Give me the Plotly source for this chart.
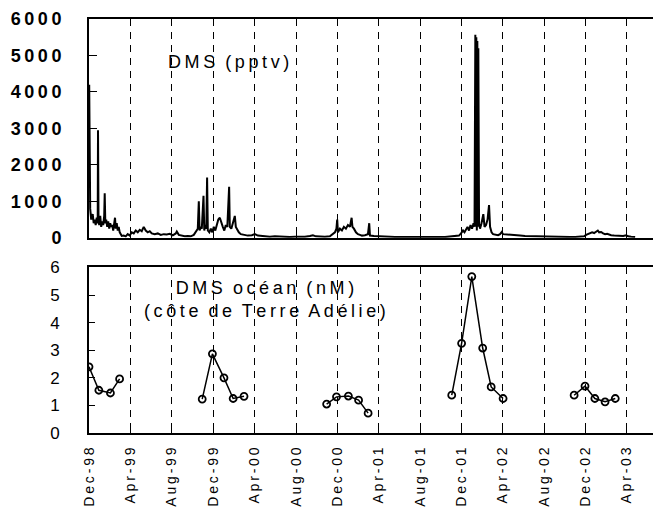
import pandas as pd
import plotly.graph_objects as go
from plotly.subplots import make_subplots

# ---------------- data ----------------
START = "1998-12-01"

# atmospheric DMS (pptv): day offset since 1 Dec 1998, value
s1_day = [0.6, 3.5, 6.5, 10.9, 13.8, 16.8, 19.7, 22.7, 25.6, 26.5, 28.0, 30.0, 33.0, 35.9, 38.9, 41.8, 44.7, 46.2,
          48.0, 50.6, 53.6, 56.5, 59.5, 62.4, 65.4, 68.3, 71.2, 74.2, 76.5, 78.6, 81.5, 84.5, 87.4, 90.4, 93.3, 96.3,
          102.2, 108.0, 113.9, 119.8, 125.7, 131.6, 137.5, 143.4, 149.3, 155.1, 161.0, 166.9, 172.8, 178.7, 184.6,
          193.4, 202.3, 211.1, 219.9, 228.7, 237.6, 246.4, 255.2, 258.2, 264.1, 272.9, 281.7, 290.6, 299.4, 308.2,
          314.1, 320.0]
s1_ppt = [4200, 800, 500, 650, 400, 500, 350, 550, 400, 2950, 500, 350, 600, 300, 450, 350, 600, 1220,
          400, 500, 300, 450, 250, 400, 300, 350, 200, 450, 550, 250, 400, 200, 300, 150, 80, 50,
          60, 40, 100, 60, 150, 120, 200, 150, 220, 180, 300, 200, 150, 180, 120,
          100, 120, 80, 100, 90, 110, 70, 120, 170, 80, 60, 40, 50, 40, 80, 150, 250]

s2_day = [323.0, 325.3, 328.8, 331.8, 336.8, 339.1, 342.1, 345.0, 347.4, 349.5, 353.9, 358.3, 362.7, 367.1, 371.5,
          375.9, 380.4, 384.8, 389.2, 393.6, 398.0, 402.4, 406.9, 412.2, 414.2, 418.6, 423.1, 428.9, 431.9, 436.3,
          440.7, 446.6, 455.4, 467.2, 479.0, 487.8, 496.7, 508.4, 520.2, 532.0, 546.7, 561.4, 576.1, 590.9, 605.6,
          620.3, 635.0, 649.7, 658.6, 667.4, 679.2, 693.9, 708.6]
s2_ppt = [1000, 200, 300, 250, 1150, 200, 350, 250, 1650, 200, 150, 250, 150, 300, 200,
          350, 500, 550, 400, 300, 200, 350, 300, 1400, 300, 250, 400, 600, 300, 200,
          150, 100, 80, 60, 70, 100, 60, 50, 40, 30, 40, 30, 20, 20, 30,
          20, 30, 50, 70, 40, 30, 30, 40]

s3_day = [717.5, 723.3, 727.8, 730.1, 732.2, 738.1, 744.0, 749.8, 755.7, 761.6, 767.5, 772.5, 774.9, 779.3, 785.2,
          791.1, 796.9, 802.8, 811.7, 820.5, 824.3, 826.4, 838.2, 849.9, 861.7, 873.5, 885.3, 900.0, 914.7, 929.4,
          944.1, 958.9, 973.6, 988.3, 1003.0, 1017.7, 1032.5, 1047.2, 1061.9, 1076.6, 1088.4]
s3_ppt = [100, 150, 250, 500, 150, 250, 200, 300, 250, 350, 300, 550, 300, 250, 150,
          100, 80, 60, 70, 100, 400, 60, 50, 40, 50, 30, 30, 25, 30, 20,
          25, 20, 25, 20, 25, 20, 25, 20, 30, 40, 60]

s4_day = [1094.3, 1100.2, 1104.6, 1109.0, 1113.4, 1117.8, 1122.3, 1126.7, 1131.1, 1134.0, 1136.4, 1137.9, 1139.3,
          1140.8, 1142.3, 1143.7, 1145.2, 1147.3, 1150.2, 1154.6, 1159.9, 1163.5, 1167.9, 1172.3, 1176.7, 1179.7,
          1184.1, 1188.5, 1194.4, 1203.2, 1209.1, 1214.1, 1217.9, 1226.8, 1238.5, 1253.2, 1268.0, 1282.7, 1297.4,
          1312.1, 1326.8, 1341.6, 1356.3, 1371.0, 1385.7, 1400.4, 1415.2, 1429.9, 1444.6, 1456.4]
s4_ppt = [120, 200, 150, 250, 300, 200, 350, 250, 400, 300, 5570, 300, 5500,
          200, 5400, 300, 5200, 400, 250, 400, 650, 300, 350, 500, 900, 300,
          150, 100, 80, 70, 100, 160, 100, 90, 80, 70, 60, 50, 45,
          40, 35, 30, 25, 25, 20, 25, 20, 25, 30, 40]

s5_day = [1462.2, 1468.1, 1474.0, 1479.9, 1485.8, 1491.7, 1496.7, 1500.5, 1506.4, 1512.3, 1518.2, 1524.1, 1530.0,
          1535.8, 1544.7, 1553.5, 1562.4, 1571.2, 1580.0, 1585.9, 1594.8, 1606.5]
s5_ppt = [80, 100, 120, 150, 130, 170, 200, 150, 160, 120, 100, 110, 80,
          70, 60, 50, 40, 50, 70, 40, 30, 20]

# ocean DMS (nM), Terre Adélie coast, by campaign
o1_date = ["1998-12-01", "1998-12-30", "1999-02-02", "1999-03-01"]
o1_nm = [2.4, 1.55, 1.45, 1.96]
o2_date = ["1999-10-30", "1999-11-29", "2000-01-02", "2000-01-29", "2000-03-01"]
o2_nm = [1.23, 2.87, 2.0, 1.25, 1.33]
o3_date = ["2000-10-30", "2000-11-28", "2001-01-02", "2001-02-01", "2001-03-01"]
o3_nm = [1.05, 1.31, 1.34, 1.19, 0.72]
o4_date = ["2001-11-02", "2001-12-01", "2001-12-31", "2002-02-01", "2002-02-26", "2002-04-02"]
o4_nm = [1.37, 3.25, 5.67, 3.08, 1.67, 1.25]
o5_date = ["2002-10-28", "2002-11-29", "2002-12-28", "2003-01-27", "2003-02-26"]
o5_nm = [1.37, 1.7, 1.25, 1.13, 1.25]

tick_dates = ["1998-12-01", "1999-04-01", "1999-08-01", "1999-12-01", "2000-04-01", "2000-08-01",
              "2000-12-01", "2001-04-01", "2001-08-01", "2001-12-01", "2002-04-01", "2002-08-01",
              "2002-12-01", "2003-04-01"]
tick_labels = ["Dec-98", "Apr-99", "Aug-99", "Dec-99", "Apr-00", "Aug-00", "Dec-00", "Apr-01",
               "Aug-01", "Dec-01", "Apr-02", "Aug-02", "Dec-02", "Apr-03"]

top_ticks = [0, 1000, 2000, 3000, 4000, 5000, 6000]
bot_ticks = [0, 1, 2, 3, 4, 5, 6]

# ---------------- build ----------------
TS = "\u2009"


def spaced(s):
    return TS.join(s)


start = pd.Timestamp(START)
atm_days = s1_day + s2_day + s3_day + s4_day + s5_day
atm_vals = s1_ppt + s2_ppt + s3_ppt + s4_ppt + s5_ppt
atm_dates = [start + pd.to_timedelta(d, unit="D") for d in atm_days]

oc_x, oc_y = [], []
for dts, vals in [(o1_date, o1_nm), (o2_date, o2_nm), (o3_date, o3_nm), (o4_date, o4_nm), (o5_date, o5_nm)]:
    oc_x += list(pd.to_datetime(dts)) + [None]
    oc_y += vals + [None]

FONT = "Arial, 'Liberation Sans', sans-serif"

fig = make_subplots(rows=2, cols=1, shared_xaxes=False, vertical_spacing=0.07)

fig.add_trace(go.Scatter(x=atm_dates, y=atm_vals, mode="lines",
                         line=dict(color="black", width=2), showlegend=False), row=1, col=1)
fig.add_trace(go.Scatter(x=oc_x, y=oc_y, mode="lines+markers", connectgaps=False,
                         line=dict(color="black", width=1.5),
                         marker=dict(symbol="circle-open", size=7, color="black", line=dict(width=1.8)),
                         showlegend=False), row=2, col=1)

xrange = ["1998-12-01", "2003-06-17"]
common_x = dict(type="date", range=xrange, tickvals=tick_dates, showgrid=True,
                gridcolor="black", gridwidth=1, griddash="7px,6px",
                showline=True, linecolor="black", linewidth=1.8, mirror="ticks",
                ticks="inside", ticklen=7, tickcolor="black", tickwidth=1.2, zeroline=False)

fig.update_xaxes(**common_x, showticklabels=False, row=1, col=1)
fig.update_xaxes(**common_x, ticktext=[spaced(t) for t in tick_labels], tickangle=-90,
                 tickfont=dict(family=FONT, size=14, color="black"), ticklabelstandoff=7, row=2, col=1)

fig.update_yaxes(range=[0, 6000], tickvals=top_ticks,
                 ticktext=["<b>" + spaced(str(v)) + "</b>" for v in top_ticks],
                 tickfont=dict(family=FONT, size=18, color="black"),
                 showgrid=False, zeroline=False, showline=True, linecolor="black", linewidth=1.8,
                 ticks="inside", ticklen=8, tickcolor="black", tickwidth=1.2, ticklabelstandoff=22,
                 row=1, col=1)
fig.update_yaxes(range=[0, 6], tickvals=bot_ticks, ticktext=[str(v) for v in bot_ticks],
                 tickfont=dict(family=FONT, size=17, color="black"),
                 showgrid=False, zeroline=False, showline=True, linecolor="black", linewidth=1.8,
                 ticks="inside", ticklen=6, tickcolor="black", tickwidth=1.2, ticklabelstandoff=24,
                 row=2, col=1)

fig.update_layout(
    width=653, height=507,
    margin=dict(l=89, r=0, t=19, b=67),
    paper_bgcolor="white", plot_bgcolor="white",
    xaxis=dict(domain=[0, 1]), xaxis2=dict(domain=[0, 1]),
    yaxis=dict(domain=[0.4715, 1.0]), yaxis2=dict(domain=[0.0, 0.3998]),
    font=dict(family=FONT, color="black"),
)

fig.add_annotation(text=spaced("DMS") + "  " + spaced("(pptv)"), xref="paper", yref="paper",
                   x=(228.7 - 89) / 564, y=(440 - 63) / 421, xanchor="center", yanchor="middle",
                   showarrow=False, font=dict(family=FONT, size=18, color="black"))
fig.add_annotation(text=spaced("DMS") + "  " + spaced("océan") + "  " + spaced("(nM)") + "<br>" +
                   spaced("(côte") + "  " + spaced("de") + "  " + spaced("Terre") + "  " + spaced("Adélie)"),
                   xref="paper", yref="paper",
                   x=(265 - 89) / 564, y=(440 - 304) / 421, xanchor="center", yanchor="middle",
                   showarrow=False, align="center", font=dict(family=FONT, size=18, color="black"))

fig.write_html("out.html")
